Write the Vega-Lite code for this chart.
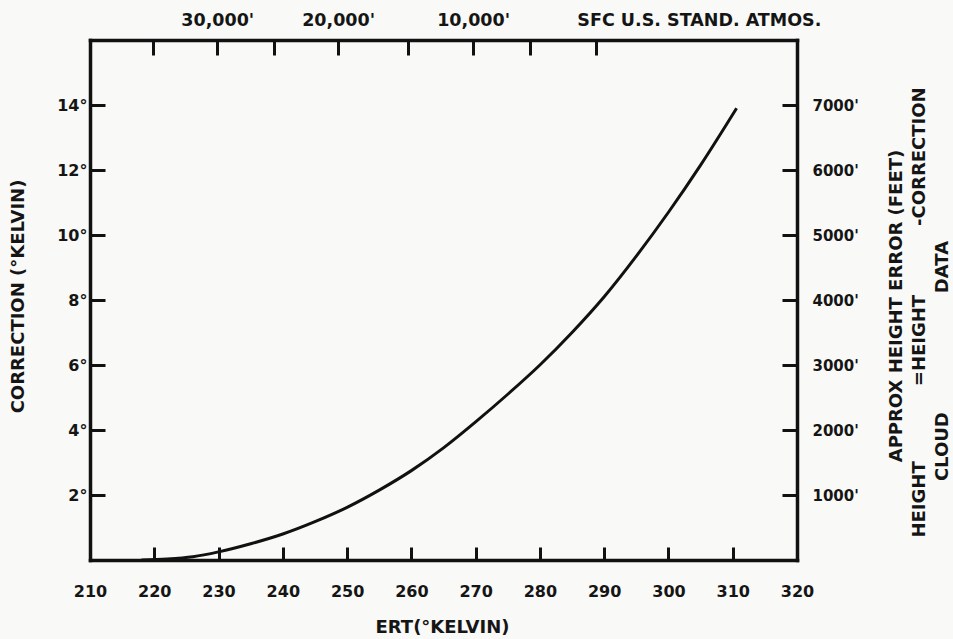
{
  "$schema": "https://vega.github.io/schema/vega-lite/v6.json",
  "width": 707,
  "height": 520,
  "autosize": {"type": "none"},
  "padding": {"left": 90, "top": 40, "right": 156, "bottom": 79},
  "background": "#f9f9f7",
  "data": {
    "values": [
      {"ert": 218, "corr": 0},
      {"ert": 222, "corr": 0.03},
      {"ert": 226, "corr": 0.1},
      {"ert": 230, "corr": 0.25},
      {"ert": 235, "corr": 0.5},
      {"ert": 240, "corr": 0.8},
      {"ert": 245, "corr": 1.18},
      {"ert": 250, "corr": 1.62},
      {"ert": 255, "corr": 2.15},
      {"ert": 260, "corr": 2.75},
      {"ert": 265, "corr": 3.45},
      {"ert": 270, "corr": 4.25},
      {"ert": 275, "corr": 5.1},
      {"ert": 280, "corr": 6.0},
      {"ert": 285, "corr": 7.0},
      {"ert": 290, "corr": 8.1},
      {"ert": 295, "corr": 9.35},
      {"ert": 300, "corr": 10.7},
      {"ert": 305, "corr": 12.15},
      {"ert": 310.6, "corr": 13.9}
    ]
  },
  "config": {
    "view": {"stroke": null},
    "axis": {
      "grid": false,
      "domainColor": "#111111",
      "domainWidth": 3.5,
      "domainCap": "square",
      "tickColor": "#111111",
      "tickWidth": 3,
      "labelFont": "DejaVu Sans",
      "labelFontWeight": "bold",
      "labelColor": "#151515",
      "labelFontSize": 16,
      "labelFlush": false,
      "labelOverlap": false,
      "labelLimit": 0,
      "titleFont": "DejaVu Sans",
      "titleFontWeight": "bold",
      "titleFontSize": 18,
      "titleColor": "#151515",
      "titleLimit": 0
    }
  },
  "layer": [
    {
      "mark": {"type": "line", "interpolate": "monotone", "color": "#111111", "strokeWidth": 3},
      "encoding": {
        "x": {
          "field": "ert",
          "type": "quantitative",
          "scale": {"domain": [210, 320], "nice": false, "zero": false},
          "axis": {
            "orient": "bottom",
            "values": [210, 220, 230, 240, 250, 260, 270, 280, 290, 300, 310, 320],
            "tickSize": -13,
            "labelPadding": 36,
            "labelBaseline": "top",
            "title": "ERT(°KELVIN)",
            "titleX": 352,
            "titleY": 67,
            "titleAlign": "center",
            "titleBaseline": "middle"
          }
        },
        "y": {
          "field": "corr",
          "type": "quantitative",
          "scale": {"domain": [0, 16], "nice": false},
          "axis": {
            "orient": "left",
            "values": [2, 4, 6, 8, 10, 12, 14],
            "labelExpr": "datum.value + '°'",
            "tickSize": -15,
            "labelPadding": 18,
            "title": "CORRECTION (°KELVIN)",
            "titleAngle": -90,
            "titleX": -72,
            "titleY": 256,
            "titleAlign": "center",
            "titleBaseline": "middle"
          }
        }
      }
    },
    {
      "mark": {"type": "line", "interpolate": "monotone", "strokeOpacity": 0},
      "encoding": {
        "x": {
          "field": "ert",
          "type": "quantitative",
          "axis": {
            "orient": "top",
            "values": [219.8, 229.8, 238.6, 248.6, 259.5, 269.6, 278.5, 288.7],
            "labelExpr": "datum.value == 229.8 ? \"30,000'\" : datum.value == 248.6 ? \"20,000'\" : datum.value == 269.6 ? \"10,000'\" : datum.value == 288.7 ? 'SFC U.S. STAND. ATMOS.' : ''",
            "labelAlign": {"condition": {"test": "datum.value == 288.7", "value": "left"}, "value": "center"},
            "labelOffset": {"condition": {"test": "datum.value == 288.7", "value": -19}, "value": 0},
            "labelFontSize": 17.5,
            "tickSize": -15,
            "labelPadding": 26,
            "title": null
          }
        },
        "y": {
          "field": "corr",
          "type": "quantitative",
          "axis": {
            "orient": "right",
            "values": [2, 4, 6, 8, 10, 12, 14],
            "labelExpr": "datum.value * 500 + \"'\"",
            "labelFontSize": 15,
            "tickSize": -15,
            "labelPadding": 30,
            "title": [
              "\u200b\u00a0\u00a0\u00a0\u00a0\u00a0\u00a0\u00a0\u00a0\u00a0\u00a0\u00a0\u00a0APPROX HEIGHT ERROR (FEET)",
              "HEIGHT\u00a0\u00a0\u00a0\u00a0\u00a0\u00a0\u00a0\u00a0\u00a0\u00a0\u00a0\u00a0=HEIGHT\u00a0\u00a0\u00a0\u00a0\u00a0\u00a0\u00a0\u00a0\u00a0\u00a0\u00a0-CORRECTION",
              "\u200b\u00a0\u00a0\u00a0\u00a0\u00a0\u00a0\u00a0\u00a0\u00a0CLOUD\u00a0\u00a0\u00a0\u00a0\u00a0\u00a0\u00a0\u00a0\u00a0\u00a0\u00a0\u00a0\u00a0\u00a0\u00a0\u00a0\u00a0\u00a0\u00a0DATA"
            ],
            "titleAngle": -90,
            "titleX": 99,
            "titleY": 497,
            "titleAlign": "left",
            "titleBaseline": "middle",
            "titleLineHeight": 23
          }
        }
      }
    }
  ],
  "resolve": {"axis": {"x": "independent", "y": "independent"}}
}
